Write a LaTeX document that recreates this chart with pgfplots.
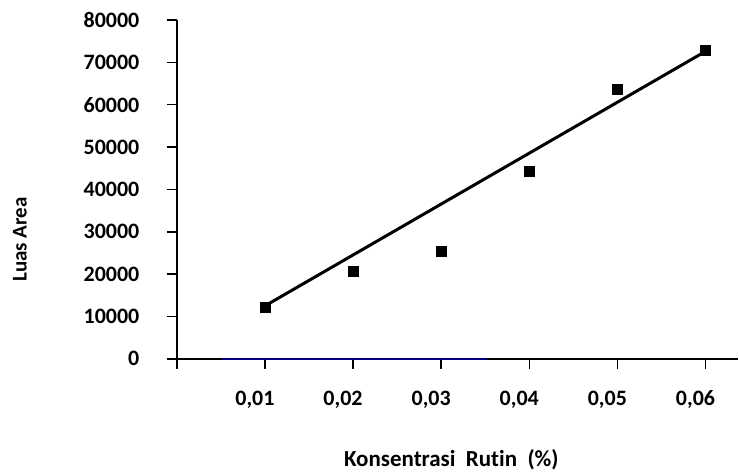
\documentclass[border=0pt]{standalone}
\usepackage{fontspec}
\setmainfont{Carlito}[Ligatures=NoCommon]
\usepackage{pgfplots}
\pgfplotsset{compat=1.18}
\definecolor{navyline}{RGB}{0,0,128}

\begin{document}
\begin{tikzpicture}
\begin{axis}[
	scale only axis,
	width=562bp, height=339.3bp,
	xmin=0, xmax=0.0637,
	ymin=0, ymax=80000,
	axis lines*=left,
	axis line style={line width=1.8bp},
	tick align=outside,
	major tick length=10bp,
	tick style={black, line width=1.5bp},
	xtick={0,0.01,0.02,0.03,0.04,0.05,0.06},
	xticklabels={,{0,01},{0,02},{0,03},{0,04},{0,05},{0,06}},
	scaled x ticks=false,
	ytick={0,10000,...,80000},
	scaled y ticks=false,
	yticklabel style={/pgf/number format/1000 sep={}, xshift=-24bp},
	xticklabel style={anchor=base, xshift=-10bp, yshift=-37bp},
	tick label style={font=\fontsize{22bp}{26bp}\selectfont\bfseries},
	/pgf/number format/assume math mode=true,
	xlabel={Konsentrasi\ \ Rutin\ \ (\%)},
	xlabel style={font=\fontsize{23bp}{27bp}\selectfont\bfseries, at={(axis description cs:0.489,0)}, anchor=center, yshift=-100.7bp},
	ylabel={Luas Area},
	ylabel style={font=\fontsize{21bp}{25bp}\selectfont\bfseries, at={(axis description cs:-0.2794,0.352)}, anchor=center},
	clip=false,
]
	% blue segment lying on the x axis
	\addplot[navyline, line width=2bp] coordinates {(0.00508,0)(0.0352,0)};
	% measured points
	\addplot[only marks, mark=square*, mark size=5bp, black]
	coordinates {(0.01,12100)(0.02,20600)(0.03,25500)(0.04,44300)(0.05,63600)(0.06,72900)};
	% trend line
	\addplot[black, line width=3bp] coordinates {(0.01,12500)(0.06,72600)};
\end{axis}
\path (current axis.south west) ++(-177bp,-110.7bp) rectangle ++(739bp,470bp);
\end{tikzpicture}
\end{document}
